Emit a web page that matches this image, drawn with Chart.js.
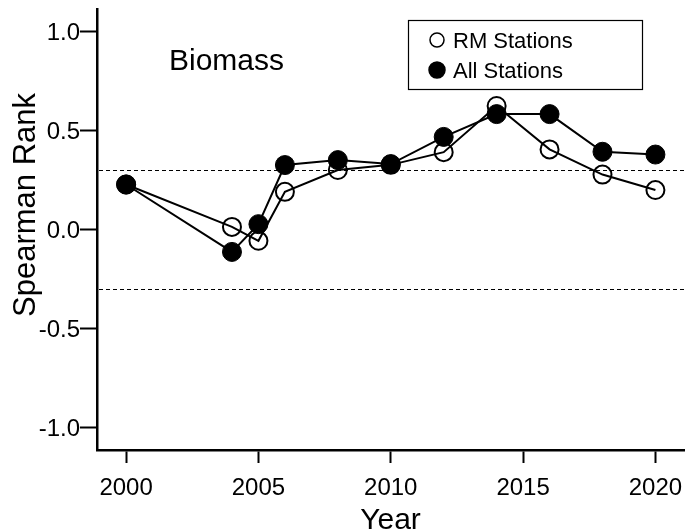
<!DOCTYPE html>
<html>
<head>
<meta charset="utf-8">
<script src="https://cdn.jsdelivr.net/npm/chart.js@4.4.0/dist/chart.umd.min.js"></script>
<style>
  html, body { margin: 0; padding: 0; background: #fff; }
  #chart { display: block; }
</style>
</head>
<body>
<canvas id="chart" width="685" height="531"></canvas>
<script>
/* Spearman rank by survey year: RM stations vs all stations (biomass) */

const years = [2000, 2004, 2005, 2006, 2008, 2010, 2012, 2014, 2016, 2018, 2020];
const rmStations = [0.226, 0.012, -0.058, 0.189, 0.299, 0.325, 0.389, 0.622, 0.403, 0.276, 0.198];
const allStations = [0.226, -0.114, 0.026, 0.324, 0.349, 0.329, 0.466, 0.581, 0.581, 0.391, 0.377];
const seriesLabels = ['RM Stations', 'All Stations'];
const xTicks = [2000, 2005, 2010, 2015, 2020];
const yTicks = [-1.0, -0.5, 0.0, 0.5, 1.0];
const refLines = [0.3, -0.3];
const panelLabel = 'Biomass';
const xTitle = 'Year';
const yTitle = 'Spearman Rank';

const FONT = "'Liberation Sans', Arial, sans-serif";
const INK = '#000';

function toPoints(values) {
  return years.map((yr, i) => ({ x: yr, y: values[i] }));
}

// dashed reference lines, the panel label, the y title and the boxed legend
const extras = {
  id: 'extras',
  beforeDatasetsDraw(chart) {
    const { ctx, chartArea, scales } = chart;
    ctx.save();
    ctx.strokeStyle = INK;
    ctx.lineWidth = 1;
    ctx.setLineDash([4, 3]);
    refLines.forEach(v => {
      const py = Math.round(scales.y.getPixelForValue(v)) + 0.5;
      ctx.beginPath();
      ctx.moveTo(chartArea.left + 2, py);
      ctx.lineTo(chartArea.right, py);
      ctx.stroke();
    });
    ctx.restore();
  },
  afterDraw(chart) {
    const { ctx } = chart;
    ctx.save();
    ctx.fillStyle = INK;

    ctx.font = `30px ${FONT}`;
    ctx.textAlign = 'left';
    ctx.textBaseline = 'middle';
    ctx.fillText(panelLabel, 169, 62);

    ctx.save();
    ctx.translate(26, 205);
    ctx.rotate(-Math.PI / 2);
    ctx.textAlign = 'center';
    ctx.font = `31px ${FONT}`;
    ctx.fillText(yTitle, 0, 0);
    ctx.restore();

    // legend
    const box = { x: 408, y: 20, w: 234, h: 69 };
    ctx.strokeStyle = INK;
    ctx.lineWidth = 1.2;
    ctx.strokeRect(box.x + 0.5, box.y + 0.5, box.w, box.h);
    ctx.font = `22px ${FONT}`;
    const sizes = [7, 8];
    chart.data.datasets.forEach((ds, i) => {
      const cy = box.y + 20 + i * 30;
      ctx.beginPath();
      ctx.arc(box.x + 29, cy, sizes[i], 0, Math.PI * 2);
      ctx.fillStyle = ds.pointBackgroundColor;
      ctx.fill();
      ctx.lineWidth = 1.5;
      ctx.strokeStyle = ds.pointBorderColor;
      ctx.stroke();
      ctx.fillStyle = INK;
      ctx.fillText(ds.label, box.x + 45, cy + 1.5);
    });
    ctx.restore();
  }
};

new Chart(document.getElementById('chart'), {
  type: 'line',
  data: {
    datasets: [
      {
        label: seriesLabels[0],
        data: toPoints(rmStations),
        borderColor: INK,
        borderWidth: 2,
        pointRadius: 9,
        pointBorderWidth: 2,
        pointBackgroundColor: 'rgba(0,0,0,0)',
        pointBorderColor: INK,
        order: 2
      },
      {
        label: seriesLabels[1],
        data: toPoints(allStations),
        borderColor: INK,
        borderWidth: 2,
        pointRadius: 9.5,
        pointBorderWidth: 1,
        pointBackgroundColor: INK,
        pointBorderColor: INK,
        order: 1
      }
    ]
  },
  options: {
    responsive: false,
    animation: false,
    devicePixelRatio: 1,
    layout: { autoPadding: false, padding: { top: 9, right: 1, left: 0, bottom: 0 } },
    plugins: {
      legend: { display: false },
      tooltip: { enabled: false },
      title: { display: false }
    },
    scales: {
      x: {
        type: 'linear',
        min: 1998.9,
        max: 2021.08,
        afterFit: s => { s.height = 81; },
        afterBuildTicks: s => { s.ticks = xTicks.map(v => ({ value: v })); },
        border: { display: true, color: INK, width: 2.5 },
        grid: { drawOnChartArea: false, drawTicks: true, tickLength: 13, tickColor: INK, tickWidth: 2 },
        ticks: {
          color: INK,
          padding: 0,
          maxRotation: 0,
          // tall line box pushes the label down without widening side padding
          font: { size: 24, family: FONT, lineHeight: 2.12 },
          callback: v => String(v)
        },
        title: {
          display: true,
          text: xTitle,
          color: INK,
          padding: 0,
          font: { size: 30, family: FONT, lineHeight: 0.7 }
        }
      },
      y: {
        min: -1.113,
        max: 1.111,
        afterFit: s => { s.width = 97; },
        afterBuildTicks: s => { s.ticks = yTicks.map(v => ({ value: v })); },
        border: { display: true, color: INK, width: 2.5 },
        grid: { drawOnChartArea: false, drawTicks: true, tickLength: 17, tickColor: INK, tickWidth: 2 },
        ticks: {
          color: INK,
          padding: 0,
          labelOffset: 2,
          font: { size: 24, family: FONT, lineHeight: 0.6 },
          callback: v => v.toFixed(1)
        }
      }
    }
  },
  plugins: [extras]
});
</script>
</body>
</html>
